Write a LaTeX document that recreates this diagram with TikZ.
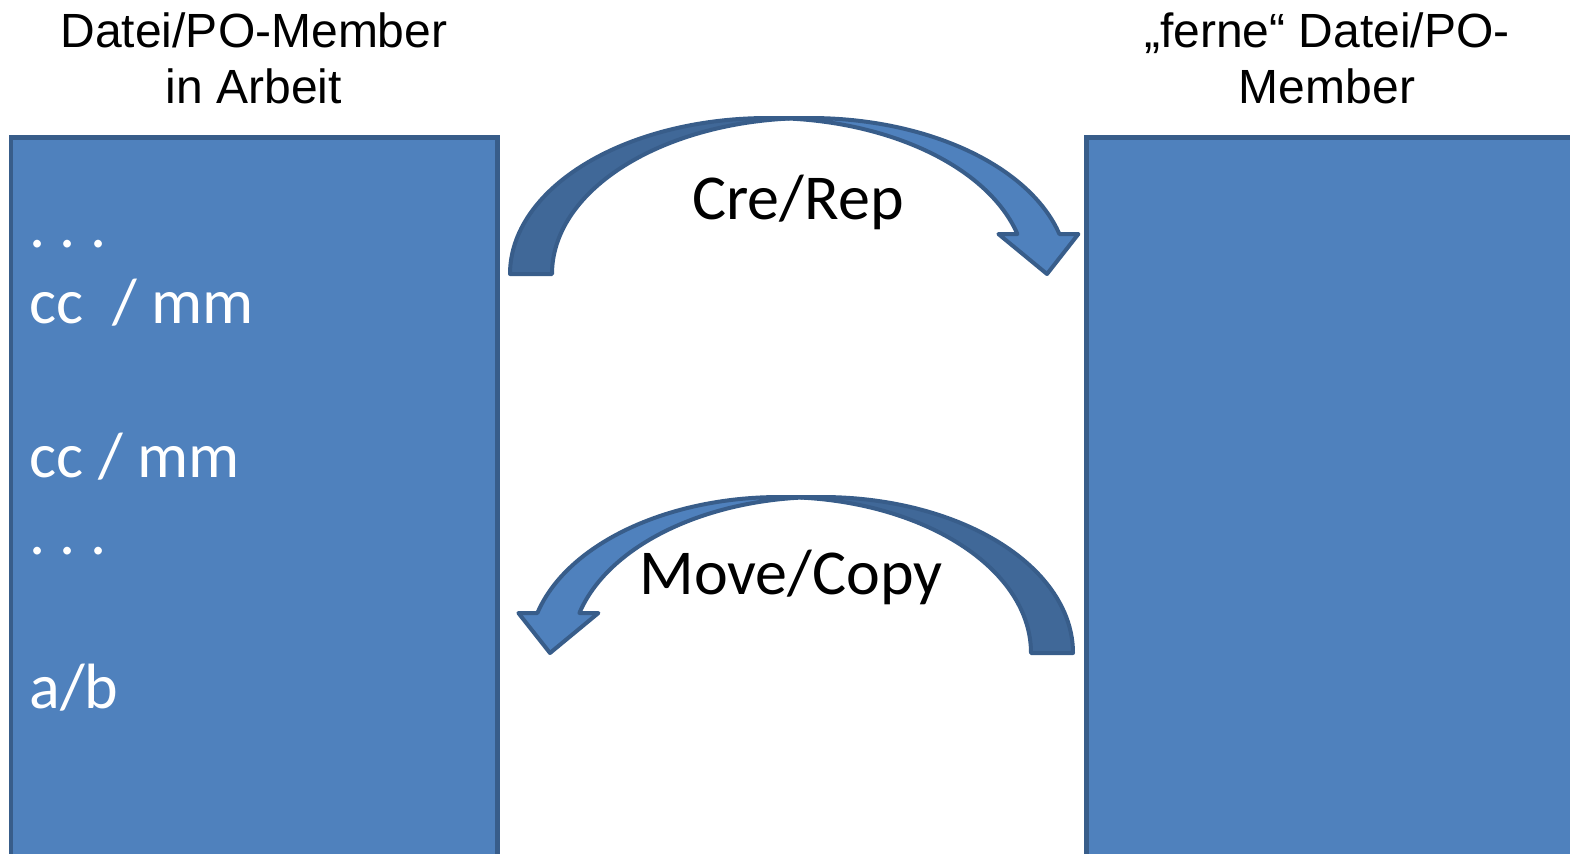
\documentclass[tikz,border=0pt]{standalone}
\usepackage{fontspec}
\newfontfamily\headfont{Liberation Sans}
\newfontfamily\bodyfont{Carlito}
\usepackage{tikz}
\usetikzlibrary{calc}
\usepackage{color}
\definecolor{boxblue}{HTML}{4F81BD}
\definecolor{boxline}{HTML}{385D8A}
\definecolor{backblue}{HTML}{406898}
\frenchspacing

\tikzset{
  memberbox/.style={fill=boxblue,draw=boxline,line width=2.2pt},
  arrowfront/.style={fill=boxblue,draw=boxline,line width=2pt,line join=round},
  arrowback/.style={fill=backblue,draw=boxline,line width=2pt,line join=round},
  headtext/.style={font=\headfont\fontsize{24}{28}\selectfont,align=center,anchor=base,inner sep=0pt},
  listtext/.style={font=\bodyfont\fontsize{32}{38}\selectfont,text=white,anchor=base west,inner sep=0pt},
  arrowtext/.style={font=\bodyfont\fontsize{32}{38}\selectfont,anchor=base,inner sep=0pt}
}

\begin{document}
\begin{tikzpicture}[x=0.5pt,y=0.5pt,yscale=-1,xscale=1]
\useasboundingbox (0,0) rectangle (1570,853);

%Rectangles
\draw [memberbox] (11,137.5) rectangle (497.5,880);
\draw [memberbox] (1086.5,137.5) rectangle (1590,880);

%Curved Arrow (upper)
\draw [arrowfront] (1047,274) -- (998.4,234) -- (1017.4,234) arc[start angle=-14.86,end angle=-90,x radius=258,y radius=156] -- (810,118) arc[start angle=-90,end angle=-14.86,x radius=258,y radius=156] -- (1078.4,234) -- cycle;
\draw [arrowback] (510,274) arc[start angle=180,end angle=274.67,x radius=258,y radius=156] arc[start angle=265.33,end angle=180,x radius=258,y radius=156] -- cycle;

%Curved Arrow (lower)
\draw [arrowfront] (550,653) -- (598.4,613) -- (579.4,613) arc[start angle=194.86,end angle=270,x radius=251,y radius=156] -- (780,497) arc[start angle=270,end angle=194.86,x radius=251,y radius=156] -- (518.4,613) -- cycle;
\draw [arrowback] (1073,653) arc[start angle=360,end angle=265.2,x radius=251,y radius=156] arc[start angle=274.8,end angle=360,x radius=251,y radius=156] -- cycle;

% Text Node (base = last line)
\node [headtext] (worktitle) at (254,103) {Datei/PO-Member\\in Arbeit};
% Text Node
\node [headtext] (remotetitle) at (1327,103) {„ferne“ Datei/PO-\\Member};
% Text Node
\node [listtext] (dotsa) at (29,247) {. . .};
% Text Node
\node [listtext] (ccmma) at (29,323) {cc\ \ / mm};
% Text Node
\node [listtext] (ccmmb) at (29,477) {cc / mm};
% Text Node
\node [listtext] (dotsb) at (29,554) {. . .};
% Text Node
\node [listtext] (ab) at (29,708) {a/b};
% Text Node
\node [arrowtext] (crerep) at (798,219) {Cre/Rep};
% Text Node
\node [arrowtext] (movecopy) at (791,594) {Move/Copy};
\end{tikzpicture}
\end{document}
